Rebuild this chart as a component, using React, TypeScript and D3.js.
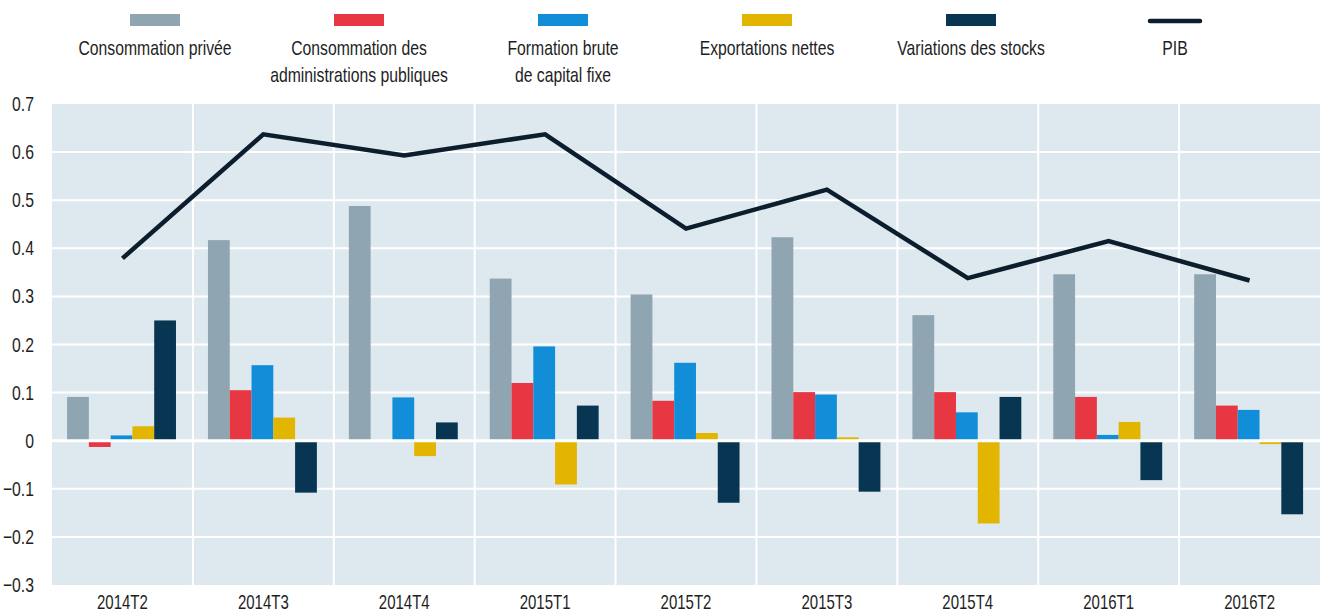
import React from 'react'
import * as d3 from 'd3'

const quarters = ['2014T2', '2014T3', '2014T4', '2015T1', '2015T2', '2015T3', '2015T4', '2016T1', '2016T2']

const consoPrivee = [0.091, 0.417, 0.488, 0.337, 0.304, 0.423, 0.261, 0.346, 0.346]
const consoAdmin = [-0.013, 0.105, 0, 0.12, 0.083, 0.101, 0.101, 0.091, 0.073]
const fbcf = [0.011, 0.157, 0.09, 0.196, 0.162, 0.096, 0.059, 0.012, 0.064]
const exportNettes = [0.03, 0.048, -0.032, -0.091, 0.016, 0.007, -0.172, 0.039, -0.007]
const stocks = [0.25, -0.108, 0.038, 0.073, -0.129, -0.106, 0.091, -0.082, -0.153]
const pib = [0.379, 0.637, 0.593, 0.637, 0.441, 0.522, 0.338, 0.415, 0.333]

const yTicks = [0.7, 0.6, 0.5, 0.4, 0.3, 0.2, 0.1, 0, -0.1, -0.2, -0.3]

const barSeries = [
  { key: 'cp', label: ['Consommation privée'], color: '#8fa5b1', values: consoPrivee },
  { key: 'ca', label: ['Consommation des', 'administrations publiques'], color: '#e63743', values: consoAdmin },
  { key: 'fb', label: ['Formation brute', 'de capital fixe'], color: '#128ed9', values: fbcf },
  { key: 'en', label: ['Exportations nettes'], color: '#e1b500', values: exportNettes },
  { key: 'vs', label: ['Variations des stocks'], color: '#083652', values: stocks },
]

const W = 1320
const H = 614
const FONT = '"Liberation Sans", Arial, sans-serif'
const SX = 0.75 // condensed look

// narrow text: Liberation Sans squeezed horizontally
function NText({ x, y, anchor = 'middle', size = 21, children }: { x: number; y: number; anchor?: string; size?: number; children: React.ReactNode }) {
  return (
    <text transform={`translate(${x},${y}) scale(${SX},1)`} textAnchor={anchor} fontSize={size} fill="#1e1e1e">
      {children}
    </text>
  )
}

export default function App() {
  const plotLeft = 52
  const plotRight = 1320
  const plotTop = 104
  const plotBottom = 585

  const x = d3.scaleBand<string>().domain(quarters).range([plotLeft, plotRight]).padding(0)
  const bw = x.bandwidth()
  const xInner = d3
    .scaleBand<string>()
    .domain(barSeries.map((s) => s.key))
    .range([bw * 0.107, bw * 0.88])
    .padding(0)
  const y = d3.scaleLinear().domain([-0.3, 0.7]).range([plotBottom, plotTop])

  const line = d3
    .line<number>()
    .x((_, i) => (x(quarters[i]) as number) + bw / 2)
    .y((d) => y(d))

  const legendItems = [...barSeries.map((s) => ({ label: s.label, color: s.color, isLine: false })), { label: ['PIB'], color: '#0c1e2d', isLine: true }]
  const legendX = d3.scalePoint<number>().domain(legendItems.map((_, i) => i)).range([155, 1175])

  return (
    <div style={{ position: 'absolute', left: 0, top: 0 }}>
      <svg width={W} height={H} style={{ display: 'block', fontFamily: FONT }}>
        <rect x={0} y={0} width={W} height={H} fill="#fff" />

        {/* legend */}
        {legendItems.map((item, i) => {
          const cx = legendX(i) as number
          return (
            <g key={i}>
              {item.isLine ? (
                <line x1={cx - 25} x2={cx + 25} y1={21} y2={21} stroke={item.color} strokeWidth={4.5} strokeLinecap="round" />
              ) : (
                <rect x={cx - 25} y={14} width={50} height={12} fill={item.color} />
              )}
              {item.label.map((t, j) => (
                <NText key={j} x={cx} y={55 + j * 27}>
                  {t}
                </NText>
              ))}
            </g>
          )
        })}

        {/* plot background */}
        <rect x={plotLeft} y={plotTop} width={plotRight - plotLeft} height={plotBottom - plotTop} fill="#dee8ef" />

        {/* grid */}
        {yTicks.filter((t) => t !== 0.7 && t !== -0.3 && t !== 0).map((t) => (
          <line key={t} x1={plotLeft} x2={plotRight} y1={y(t)} y2={y(t)} stroke="#fff" strokeWidth={2} />
        ))}
        {quarters.slice(1).map((q) => (
          <line key={q} x1={x(q)} x2={x(q)} y1={plotTop} y2={plotBottom} stroke="#fff" strokeWidth={2} />
        ))}

        {/* bars */}
        {quarters.map((q, i) => (
          <g key={q} transform={`translate(${x(q)},0)`}>
            {barSeries.map((s) => {
              const v = s.values[i]
              const y0 = y(0)
              const y1 = y(v)
              return (
                <rect
                  key={s.key}
                  x={xInner(s.key)}
                  y={Math.min(y0, y1)}
                  width={xInner.bandwidth()}
                  height={Math.abs(y1 - y0)}
                  fill={s.color}
                />
              )
            })}
          </g>
        ))}

        {/* zero line */}
        <line x1={plotLeft} x2={plotRight} y1={y(0)} y2={y(0)} stroke="#fff" strokeWidth={3} />

        {/* PIB line */}
        <path d={line(pib) || ''} fill="none" stroke="#0c1e2d" strokeWidth={4.5} strokeLinejoin="miter" />

        {/* y axis labels */}
        {yTicks.map((t) => (
          <NText key={t} x={34} y={y(t) + 7} anchor="end">
            {t === 0 ? '0' : d3.format('.1f')(t)}
          </NText>
        ))}

        {/* x axis labels */}
        {quarters.map((q) => (
          <NText key={q} x={(x(q) as number) + bw / 2} y={609} size={20}>
            {q}
          </NText>
        ))}
      </svg>
    </div>
  )
}
